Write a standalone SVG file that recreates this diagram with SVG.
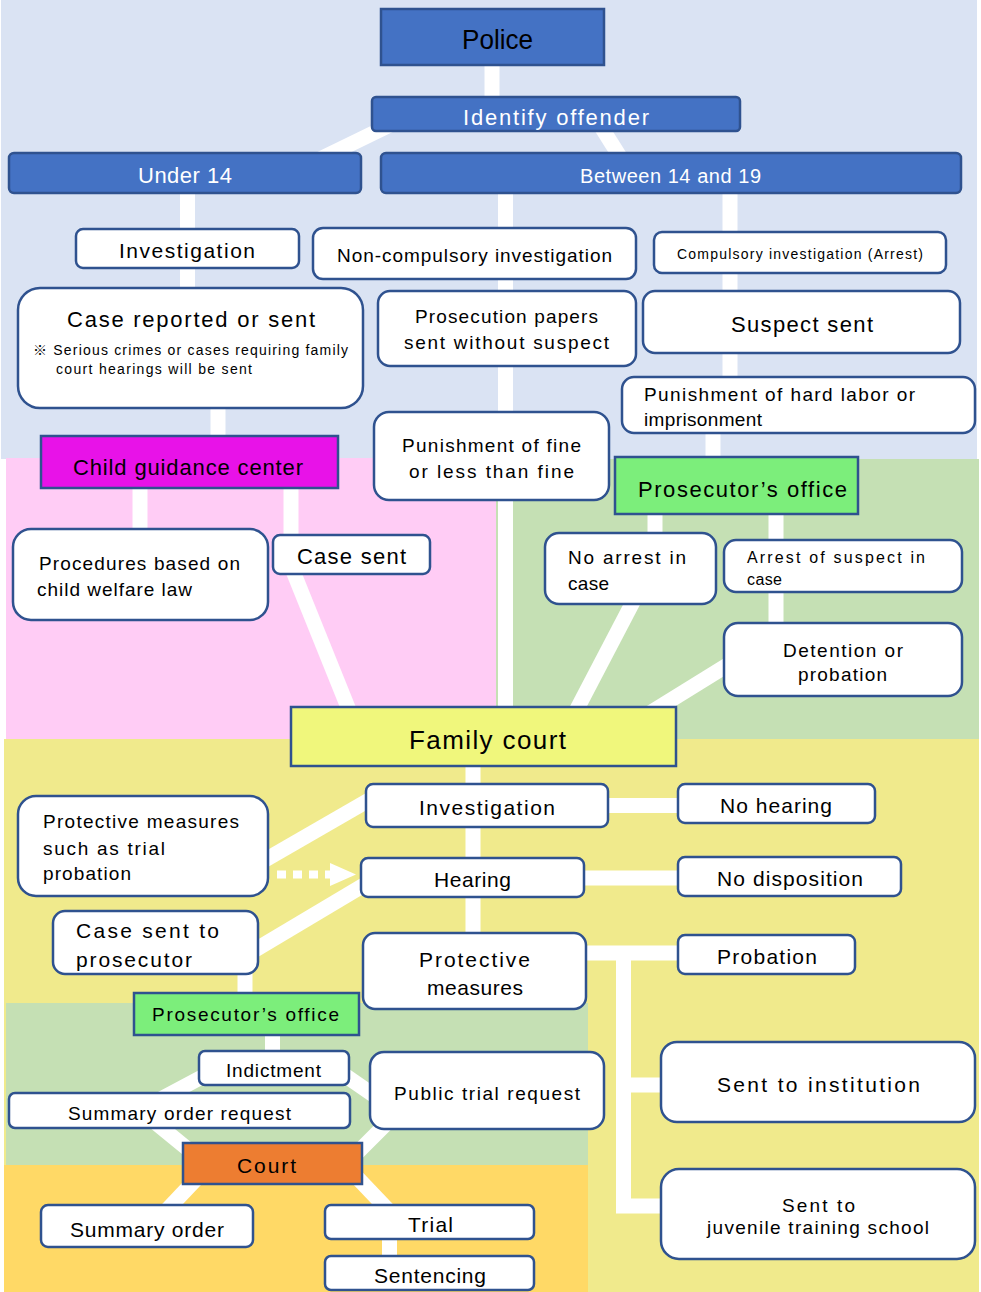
<svg xmlns="http://www.w3.org/2000/svg" width="981" height="1292" viewBox="0 0 981 1292">
<style>
.n{fill:#fff;stroke:#2F528F;stroke-width:2.5}
.b{fill:#4472C4;stroke:#2F528F;stroke-width:2.5}
.g{fill:#7CEE7B;stroke:#2F528F;stroke-width:2.5}
text{font-family:"Liberation Sans","Noto Sans CJK JP",sans-serif;fill:#000;text-anchor:middle}
.s{text-anchor:start}
.w{fill:#fff}
.c{stroke:#fff;stroke-width:15;fill:none;stroke-linejoin:miter}
</style>
<g id="background">
<rect x="1" y="0" width="976" height="459" fill="#DAE3F3"/>
<rect x="6" y="458" width="490" height="284" fill="#FFCCF5"/>
<rect x="496" y="459" width="483" height="281" fill="#C5E0B4"/>
<rect x="4" y="739" width="975" height="553" fill="#F0EA8C"/>
<rect x="6" y="1003" width="582" height="162" fill="#C5E0B4"/>
<rect x="4" y="1165" width="584" height="127" fill="#FFD966"/>
</g>
<g id="connectors">
<line class="c" x1="492" y1="60" x2="492" y2="100"/>
<line class="c" x1="392" y1="124" x2="318" y2="160"/>
<line class="c" x1="600" y1="125" x2="622" y2="160"/>
<line class="c" x1="187.5" y1="190" x2="187.5" y2="292"/>
<line class="c" x1="218" y1="405" x2="218" y2="438"/>
<line class="c" x1="505.5" y1="190" x2="505.5" y2="710"/>
<line class="c" x1="730" y1="190" x2="730" y2="380"/>
<line class="c" x1="713" y1="430" x2="713" y2="460"/>
<line class="c" x1="140" y1="486" x2="140" y2="532" stroke-width="14"/>
<line class="c" x1="291" y1="486" x2="291" y2="538" stroke-width="14"/>
<line class="c" x1="293" y1="571" x2="349" y2="710"/>
<line class="c" x1="655" y1="511" x2="655" y2="536"/>
<line class="c" x1="776" y1="511" x2="776" y2="626" stroke-width="11"/>
<line class="c" x1="634" y1="600" x2="576" y2="711" stroke-width="14"/>
<line class="c" x1="734" y1="661" x2="650" y2="713" stroke-width="14"/>
<line class="c" x1="473" y1="763" x2="473" y2="936" stroke-width="16"/>
<line class="c" x1="605" y1="805.5" x2="681" y2="805.5"/>
<line class="c" x1="581" y1="878" x2="681" y2="878" stroke-width="16"/>
<line class="c" x1="583" y1="953" x2="681" y2="953" stroke-width="16"/>
<path class="c" d="M623.5,953 V1206 H664" stroke-width="16"/>
<line class="c" x1="623.5" y1="1085" x2="664" y2="1085" stroke-width="16"/>
<line class="c" x1="265" y1="860" x2="369" y2="800" stroke-width="14"/>
<line x1="277" y1="874.5" x2="334" y2="874.5" stroke="#fff" stroke-width="8" stroke-dasharray="9 7"/>
<polygon points="330,863 356,874.5 330,886" fill="#fff"/>
<line class="c" x1="255" y1="950" x2="364" y2="885" stroke-width="14"/>
<line class="c" x1="245" y1="971" x2="245" y2="996" stroke-width="16"/>
<line class="c" x1="272.5" y1="1032" x2="272.5" y2="1053" stroke-width="16"/>
<polyline class="c" points="215,1070 140,1110 195,1155" stroke-width="14"/>
<polyline class="c" points="330,1065 398,1112 350,1160" stroke-width="14"/>
<line class="c" x1="200" y1="1175" x2="165" y2="1212" stroke-width="14"/>
<line class="c" x1="350" y1="1170" x2="390" y2="1212" stroke-width="14"/>
<line class="c" x1="389.5" y1="1236" x2="389.5" y2="1259"/>
</g>
<g id="police"><rect class="b" x="381" y="9" width="223" height="56"/><text x="497.5" y="49" font-size="27" textLength="71" lengthAdjust="spacingAndGlyphs">Police</text></g>
<g id="identify"><rect class="b" x="372" y="97" width="368" height="34" rx="4"/><text class="w" x="556" y="125" font-size="22" textLength="186" lengthAdjust="spacing">Identify offender</text></g>
<g id="under14"><rect class="b" x="9" y="153" width="352" height="40" rx="5"/><text class="w" x="185" y="183" font-size="22" textLength="94" lengthAdjust="spacing">Under 14</text></g>
<g id="between"><rect class="b" x="381" y="153" width="580" height="40" rx="5"/><text class="w" x="670.5" y="183" font-size="20" textLength="181" lengthAdjust="spacing">Between 14 and 19</text></g>
<g id="investigation1"><rect class="n" x="76" y="229" width="223" height="39" rx="7"/><text x="187" y="258" font-size="21" textLength="136" lengthAdjust="spacing">Investigation</text></g>
<g id="noncompulsory"><rect class="n" x="313" y="228" width="323" height="51" rx="10"/><text x="474.5" y="262" font-size="19" textLength="275" lengthAdjust="spacing">Non-compulsory investigation</text></g>
<g id="compulsory"><rect class="n" x="654" y="232" width="292" height="41" rx="8"/><text x="800" y="259" font-size="14" textLength="246" lengthAdjust="spacing">Compulsory investigation (Arrest)</text></g>
<g id="case-reported"><rect class="n" x="18" y="288" width="345" height="120" rx="22"/><text x="191" y="327" font-size="22" textLength="248" lengthAdjust="spacing">Case reported or sent</text><text class="s" x="33" y="355" font-size="14" textLength="315" lengthAdjust="spacing">※ Serious crimes or cases requiring family</text><text class="s" x="56" y="374" font-size="14" textLength="196" lengthAdjust="spacing">court hearings will be sent</text></g>
<g id="prosecution-papers"><rect class="n" x="378" y="291" width="258" height="75" rx="12"/><text x="506.5" y="323" font-size="19" textLength="183" lengthAdjust="spacing">Prosecution papers</text><text x="506.5" y="349" font-size="19" textLength="205" lengthAdjust="spacing">sent without suspect</text></g>
<g id="suspect-sent"><rect class="n" x="643" y="291" width="317" height="62" rx="12"/><text x="802" y="332" font-size="22" textLength="142" lengthAdjust="spacing">Suspect sent</text></g>
<g id="hard-labor"><rect class="n" x="622" y="377" width="353" height="56" rx="12"/><text class="s" x="644" y="401" font-size="19" textLength="271" lengthAdjust="spacing">Punishment of hard labor or</text><text class="s" x="644" y="426" font-size="19" textLength="118" lengthAdjust="spacing">imprisonment</text></g>
<g id="fine"><rect class="n" x="374" y="412" width="235" height="88" rx="15"/><text x="491.5" y="452" font-size="19" textLength="179" lengthAdjust="spacing">Punishment of fine</text><text x="491.5" y="478" font-size="19" textLength="165" lengthAdjust="spacing">or less than fine</text></g>
<g id="child-guidance"><rect x="41" y="436" width="297" height="52" fill="#E812E8" stroke="#2F528F" stroke-width="2.5"/><text x="188" y="475" font-size="22" textLength="230" lengthAdjust="spacing">Child guidance center</text></g>
<g id="prosecutor-top"><rect class="g" x="615" y="457" width="243" height="57"/><text x="742.5" y="497" font-size="22" textLength="209" lengthAdjust="spacing">Prosecutor’s office</text></g>
<g id="procedures"><rect class="n" x="13" y="529" width="255" height="91" rx="18"/><text class="s" x="39" y="570" font-size="19" textLength="201" lengthAdjust="spacing">Procedures based on</text><text class="s" x="37" y="596" font-size="19" textLength="155" lengthAdjust="spacing">child welfare law</text></g>
<g id="case-sent"><rect class="n" x="273" y="535" width="157" height="39" rx="7"/><text x="351.5" y="564" font-size="22" textLength="109" lengthAdjust="spacing">Case sent</text></g>
<g id="no-arrest"><rect class="n" x="545" y="533" width="171" height="71" rx="14"/><text class="s" x="568" y="564" font-size="19" textLength="118" lengthAdjust="spacing">No arrest in</text><text class="s" x="568" y="590" font-size="19" textLength="41" lengthAdjust="spacing">case</text></g>
<g id="arrest-suspect"><rect class="n" x="724" y="540" width="238" height="52" rx="12"/><text class="s" x="747" y="563" font-size="16" textLength="178" lengthAdjust="spacing">Arrest of suspect in</text><text class="s" x="747" y="585" font-size="16" textLength="35" lengthAdjust="spacing">case</text></g>
<g id="detention"><rect class="n" x="724" y="623" width="238" height="73" rx="14"/><text x="843" y="657" font-size="19" textLength="120" lengthAdjust="spacing">Detention or</text><text x="842.5" y="681" font-size="19" textLength="89" lengthAdjust="spacing">probation</text></g>
<g id="family-court"><rect x="291" y="707" width="385" height="59" fill="#F0F77C" stroke="#2F528F" stroke-width="2.5"/><text x="487.5" y="749" font-size="26" textLength="157" lengthAdjust="spacing">Family court</text></g>
<g id="investigation2"><rect class="n" x="366" y="784" width="242" height="43" rx="7"/><text x="487" y="815" font-size="21" textLength="136" lengthAdjust="spacing">Investigation</text></g>
<g id="no-hearing"><rect class="n" x="678" y="784" width="197" height="39" rx="7"/><text x="776" y="813" font-size="21" textLength="112" lengthAdjust="spacing">No hearing</text></g>
<g id="hearing"><rect class="n" x="361" y="858" width="223" height="39" rx="7"/><text x="472.5" y="887" font-size="21" textLength="77" lengthAdjust="spacing">Hearing</text></g>
<g id="no-disposition"><rect class="n" x="678" y="857" width="223" height="39" rx="7"/><text x="790" y="886" font-size="21" textLength="146" lengthAdjust="spacing">No disposition</text></g>
<g id="protective-measures"><rect class="n" x="363" y="933" width="223" height="76" rx="12"/><text x="474.5" y="967" font-size="21" textLength="111" lengthAdjust="spacing">Protective</text><text x="475" y="995" font-size="21" textLength="96" lengthAdjust="spacing">measures</text></g>
<g id="probation"><rect class="n" x="678" y="935" width="177" height="39" rx="7"/><text x="767" y="964" font-size="21" textLength="100" lengthAdjust="spacing">Probation</text></g>
<g id="trial-probation"><rect class="n" x="18" y="796" width="250" height="100" rx="18"/><text class="s" x="43" y="828" font-size="19" textLength="196" lengthAdjust="spacing">Protective measures</text><text class="s" x="43" y="855" font-size="19" textLength="122" lengthAdjust="spacing">such as trial</text><text class="s" x="43" y="880" font-size="19" textLength="88" lengthAdjust="spacing">probation</text></g>
<g id="case-to-prosecutor"><rect class="n" x="53" y="911" width="205" height="63" rx="12"/><text class="s" x="76" y="938" font-size="21" textLength="143" lengthAdjust="spacing">Case sent to</text><text class="s" x="76" y="967" font-size="21" textLength="116" lengthAdjust="spacing">prosecutor</text></g>
<g id="prosecutor-bottom"><rect class="g" x="134" y="993" width="225" height="42"/><text x="245.5" y="1021" font-size="19" textLength="187" lengthAdjust="spacing">Prosecutor’s office</text></g>
<g id="indictment"><rect class="n" x="199" y="1051" width="150" height="34" rx="6"/><text x="273.5" y="1077" font-size="19" textLength="95" lengthAdjust="spacing">Indictment</text></g>
<g id="summary-request"><rect class="n" x="9" y="1093" width="341" height="35" rx="6"/><text x="179.5" y="1120" font-size="19" textLength="223" lengthAdjust="spacing">Summary order request</text></g>
<g id="public-trial"><rect class="n" x="370" y="1052" width="234" height="77" rx="14"/><text x="487" y="1100" font-size="19" textLength="186" lengthAdjust="spacing">Public trial request</text></g>
<g id="court"><rect x="183" y="1143" width="179" height="41" fill="#ED7D31" stroke="#2F528F" stroke-width="2.5"/><text x="266.5" y="1173" font-size="21" textLength="59" lengthAdjust="spacing">Court</text></g>
<g id="summary-order"><rect class="n" x="41" y="1205" width="212" height="42" rx="7"/><text x="147" y="1237" font-size="21" textLength="154" lengthAdjust="spacing">Summary order</text></g>
<g id="trial"><rect class="n" x="325" y="1205" width="209" height="34" rx="6"/><text x="430.5" y="1232" font-size="21" textLength="45" lengthAdjust="spacing">Trial</text></g>
<g id="sentencing"><rect class="n" x="325" y="1256" width="209" height="34" rx="6"/><text x="430" y="1283" font-size="21" textLength="112" lengthAdjust="spacing">Sentencing</text></g>
<g id="institution"><rect class="n" x="661" y="1042" width="314" height="80" rx="16"/><text x="818.5" y="1092" font-size="21" textLength="203" lengthAdjust="spacing">Sent to institution</text></g>
<g id="juvenile-school"><rect class="n" x="661" y="1169" width="314" height="90" rx="18"/><text x="818.5" y="1212" font-size="19" textLength="73" lengthAdjust="spacing">Sent to</text><text x="818" y="1234" font-size="19" textLength="222" lengthAdjust="spacing">juvenile training school</text></g>
</svg>
